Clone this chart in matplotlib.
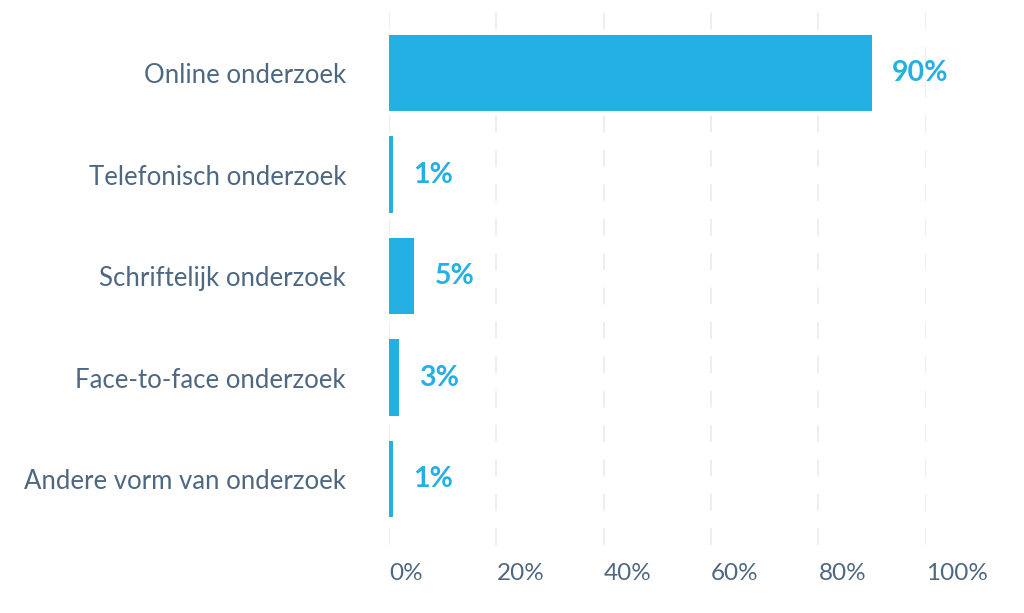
import matplotlib.pyplot as plt

# Data
categories = [
    "Online onderzoek",
    "Telefonisch onderzoek",
    "Schriftelijk onderzoek",
    "Face-to-face onderzoek",
    "Andere vorm van onderzoek",
]
values = [90, 0.8, 4.7, 1.8, 0.8]
value_labels = ["90%", "1%", "5%", "3%", "1%"]
x_ticks = [0, 20, 40, 60, 80, 100]
x_tick_labels = ["0%", "20%", "40%", "60%", "80%", "100%"]

bar_color = "#24b0e5"
text_color = "#4e6882"
grid_color = "#e9e9e9"

plt.rcParams["font.family"] = ["Lato", "DejaVu Sans"]

fig = plt.figure(figsize=(10.24, 6.13), dpi=100)
ax = fig.add_axes([0.38, 0.111, 0.524, 0.889])

y = list(range(len(categories)))
ax.barh(y, values, height=0.75, color=bar_color, zorder=2)

# Value labels to the right of each bar
for yi, v, lab in zip(y, values, value_labels):
    ax.annotate(lab, (v, yi), xytext=(20, 0), textcoords="offset pixels",
                ha="left", va="center", fontsize=20.5, fontweight="bold",
                color=bar_color)

ax.set_xlim(0, 100)
ax.set_ylim(4.65, -0.72)

# Dashed vertical grid
for t in x_ticks:
    ax.axvline(t, color=grid_color, lw=1.1, linestyle=(0, (11, 11.5)), zorder=1)

ax.set_yticks(y)
ax.set_yticklabels(categories, fontsize=18.5, color=text_color)
ax.set_xticks(x_ticks)
ax.set_xticklabels(x_tick_labels, fontsize=17.5, color=text_color, ha="left")
ax.tick_params(axis="y", length=0, pad=31)
ax.tick_params(axis="x", length=0, pad=13)

for s in ax.spines.values():
    s.set_visible(False)

fig.savefig("out.png", dpi=100, facecolor="white")
